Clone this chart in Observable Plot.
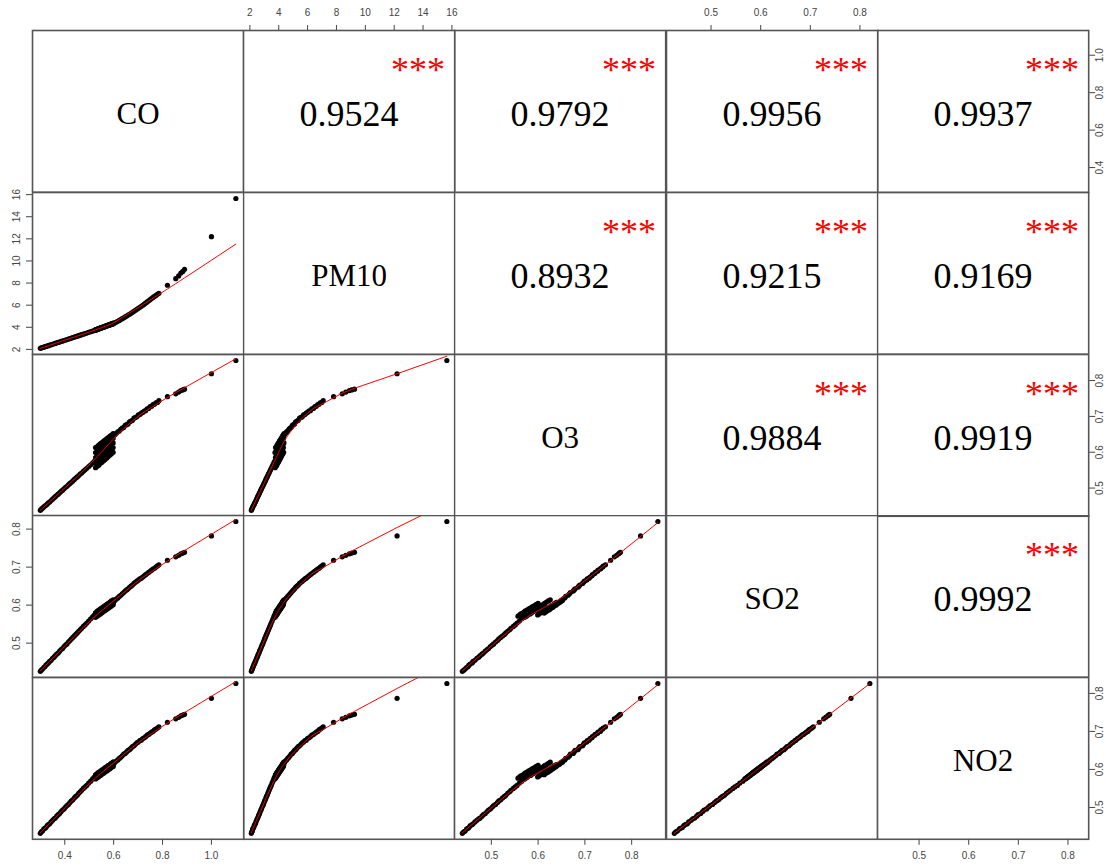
<!DOCTYPE html>
<html><head><meta charset="utf-8">
<script src="https://cdn.jsdelivr.net/npm/d3@7"></script>
<script src="https://cdn.jsdelivr.net/npm/@observablehq/plot@0.6"></script>
<style>
body{margin:0;background:#fff;}
#chart{position:relative;width:1106px;height:867px;overflow:hidden;background:#fff;}
#chart svg{position:absolute;}
</style></head><body><div id="chart"></div>
<script>
// ---- data ----
const variables = ["CO", "PM10", "O3", "SO2", "NO2"];

const CO = [
  // lower branch
  0.300,0.304,0.309,0.314,0.318,0.323,0.328,0.333,0.338,0.344,0.350,0.356,0.361,0.367,0.373,0.379,0.385,0.391,0.397,
  0.403,0.409,0.415,0.421,0.427,0.433,0.439,0.445,0.451,0.457,0.463,0.469,0.476,0.483,0.490,0.498,0.506,0.514,0.520,
  // dense cluster
  0.526,0.526,0.526,0.526,0.526, 0.533,0.533,0.533,0.533,0.533, 0.539,0.539,0.539,0.539,0.539,
  0.546,0.546,0.546,0.546,0.546, 0.552,0.552,0.552,0.552,0.552, 0.559,0.559,0.559,0.559,0.559,
  0.565,0.565,0.565,0.565,0.565, 0.572,0.572,0.572,0.572,0.572, 0.578,0.578,0.578,0.578,0.578,
  0.585,0.585,0.585,0.585,0.585, 0.591,0.591,0.591,0.591,0.591, 0.598,0.598,0.598,0.598,0.598,
  // upper branch
  0.605,0.611,0.617,0.623,0.629,0.635,0.641,0.647,0.653,0.659,0.665,0.671,0.677,0.683,0.689,0.695,
  0.701,0.707,0.713,0.719,0.725,0.731,0.737,0.743,0.749,0.755,0.761,0.767,0.773,0.779,0.785,
  0.820,0.854,0.866,0.875,0.883,0.890,1.000,1.100
];
const PM10 = [
  2.10,2.13,2.17,2.20,2.23,2.27,2.30,2.34,2.38,2.42,2.46,2.51,2.54,2.59,2.63,2.67,2.72,2.76,2.80,
  2.85,2.89,2.94,2.98,3.02,3.07,3.11,3.15,3.20,3.24,3.29,3.33,3.38,3.43,3.48,3.54,3.60,3.66,3.70,
  3.75,3.73,3.77,3.74,3.78, 3.81,3.79,3.83,3.80,3.84, 3.86,3.84,3.88,3.85,3.89,
  3.92,3.90,3.94,3.91,3.95, 3.97,3.95,3.99,3.96,4.00, 4.02,4.00,4.04,4.01,4.05,
  4.07,4.05,4.09,4.06,4.10, 4.13,4.11,4.15,4.12,4.16, 4.18,4.16,4.20,4.17,4.21,
  4.23,4.21,4.25,4.22,4.26, 4.28,4.26,4.30,4.27,4.31, 4.34,4.32,4.36,4.33,4.37,
  4.40,4.47,4.54,4.62,4.70,4.78,4.86,4.94,5.02,5.10,5.17,5.26,5.35,5.44,5.54,5.63,
  5.72,5.81,5.90,5.99,6.09,6.19,6.29,6.40,6.50,6.60,6.70,6.79,6.88,6.98,7.08,
  7.80,8.40,8.65,8.90,9.05,9.25,12.20,15.65
];
const O3 = [
  0.438,0.441,0.444,0.447,0.450,0.452,0.455,0.459,0.461,0.465,0.469,0.473,0.476,0.480,0.483,0.487,0.491,0.494,0.498,
  0.502,0.505,0.509,0.513,0.516,0.520,0.524,0.528,0.531,0.535,0.539,0.542,0.547,0.551,0.555,0.560,0.565,0.570,0.574,
  0.557,0.571,0.585,0.599,0.613, 0.561,0.575,0.589,0.602,0.616, 0.564,0.578,0.592,0.606,0.620,
  0.569,0.583,0.596,0.610,0.624, 0.572,0.586,0.600,0.613,0.627, 0.576,0.590,0.603,0.617,0.631,
  0.580,0.594,0.607,0.620,0.634, 0.584,0.598,0.611,0.624,0.638, 0.588,0.601,0.614,0.628,0.641,
  0.592,0.605,0.618,0.632,0.645, 0.596,0.609,0.622,0.635,0.648, 0.600,0.613,0.626,0.639,0.652,
  0.649,0.653,0.657,0.659,0.664,0.667,0.669,0.675,0.677,0.679,0.685,0.687,0.689,0.695,0.697,0.699,
  0.704,0.705,0.709,0.711,0.715,0.716,0.721,0.722,0.727,0.728,0.733,0.734,0.738,0.739,0.744,
  0.755,0.763,0.768,0.772,0.774,0.776,0.819,0.856
];
const SO2 = [
  0.426,0.429,0.432,0.436,0.438,0.442,0.445,0.448,0.452,0.455,0.460,0.463,0.467,0.471,0.474,0.479,0.483,0.486,0.491,
  0.495,0.498,0.503,0.507,0.511,0.515,0.519,0.523,0.527,0.531,0.535,0.539,0.544,0.548,0.553,0.558,0.564,0.569,0.573,
  0.571,0.568,0.580,0.574,0.579, 0.575,0.571,0.584,0.577,0.582, 0.578,0.574,0.587,0.580,0.585,
  0.581,0.577,0.590,0.583,0.588, 0.584,0.580,0.593,0.586,0.591, 0.587,0.583,0.596,0.589,0.594,
  0.590,0.586,0.599,0.592,0.597, 0.593,0.589,0.602,0.595,0.600, 0.596,0.592,0.605,0.598,0.603,
  0.599,0.595,0.608,0.601,0.606, 0.602,0.598,0.611,0.604,0.609, 0.605,0.601,0.614,0.607,0.612,
  0.612,0.616,0.619,0.623,0.626,0.630,0.633,0.637,0.640,0.643,0.647,0.650,0.653,0.657,0.660,0.663,
  0.666,0.669,0.671,0.674,0.677,0.680,0.683,0.686,0.689,0.692,0.695,0.697,0.700,0.703,0.706,
  0.718,0.727,0.731,0.735,0.737,0.739,0.782,0.820
];
const NO2 = [
  0.432,0.436,0.438,0.443,0.445,0.447,0.452,0.455,0.457,0.462,0.466,0.470,0.472,0.477,0.481,0.484,0.489,0.493,0.496,
  0.501,0.505,0.508,0.513,0.517,0.520,0.525,0.529,0.532,0.537,0.541,0.545,0.550,0.554,0.558,0.564,0.569,0.575,0.579,
  0.577,0.575,0.585,0.580,0.586, 0.581,0.578,0.589,0.583,0.589, 0.584,0.581,0.592,0.586,0.592,
  0.587,0.584,0.595,0.589,0.595, 0.590,0.587,0.598,0.592,0.598, 0.593,0.590,0.601,0.595,0.601,
  0.596,0.593,0.604,0.598,0.604, 0.599,0.596,0.607,0.601,0.607, 0.602,0.599,0.610,0.604,0.610,
  0.605,0.602,0.613,0.607,0.613, 0.608,0.605,0.616,0.610,0.616, 0.611,0.608,0.619,0.613,0.619,
  0.618,0.622,0.625,0.629,0.632,0.636,0.640,0.642,0.646,0.650,0.652,0.656,0.660,0.662,0.666,0.670,
  0.672,0.676,0.677,0.681,0.683,0.686,0.690,0.692,0.695,0.698,0.700,0.704,0.706,0.709,0.712,
  0.724,0.733,0.737,0.741,0.743,0.745,0.787,0.826
];

// correlation labels shown in the upper panels: [row, col, text]
const corrRows = [0,0,0,0,1,1,1,2,2,3];
const corrCols = [1,2,3,4,2,3,4,3,4,4];
const corrText = ["0.9524","0.9792","0.9956","0.9937","0.8932","0.9215","0.9169","0.9884","0.9919","0.9992"];
const sigStars = "***";

const ticksCO = [0.4, 0.6, 0.8, 1.0];
const ticksPM10 = [2, 4, 6, 8, 10, 12, 14, 16];
const ticksO3 = [0.5, 0.6, 0.7, 0.8];
const ticksSO2 = [0.5, 0.6, 0.7, 0.8];
const ticksNO2 = [0.5, 0.6, 0.7, 0.8];

// ---- helpers ----
const series = [CO, PM10, O3, SO2, NO2];
const tickSets = [ticksCO, ticksPM10, ticksO3, ticksSO2, ticksNO2];
const f1 = d3.format(".1f"), fi = d3.format("d");
const tickFmt = [f1, fi, f1, f1, f1];
const domains = series.map(s => {
  const [a, b] = d3.extent(s); const p = (b - a) * 0.04; return [a - p, b + p];
});

// R-style lowess (f = 2/3, iter = 3)
function lowess(xs, ys, f = 2/3, iter = 3) {
  const n = xs.length;
  const order = d3.range(n).sort((a, b) => xs[a] - xs[b]);
  const x = order.map(i => xs[i]), y = order.map(i => ys[i]);
  const ns = Math.max(2, Math.min(n, Math.floor(f * n + 1e-7)));
  let rw = new Array(n).fill(1);
  let fit = new Array(n).fill(0);
  for (let it = 0; it <= iter; it++) {
    let nleft = 0, nright = ns - 1;
    for (let i = 0; i < n; i++) {
      while (nright < n - 1 && x[i] - x[nleft] > x[nright + 1] - x[i]) { nleft++; nright++; }
      const h = Math.max(x[i] - x[nleft], x[nright] - x[i]);
      const h9 = 0.999 * h, h1 = 0.001 * h;
      let sw = 0, swx = 0, swy = 0; const ws = [];
      for (let j = 0; j < n; j++) {
        const r = Math.abs(x[j] - x[i]);
        let w = 0;
        if (r <= h9) {
          w = r <= h1 ? 1 : Math.pow(1 - Math.pow(r / h, 3), 3);
          w *= rw[j];
        }
        ws.push(w); sw += w; swx += w * x[j]; swy += w * y[j];
      }
      if (sw <= 0) { fit[i] = y[i]; continue; }
      const xb = swx / sw, yb = swy / sw;
      let sxx = 0, sxy = 0;
      for (let j = 0; j < n; j++) { if (ws[j] > 0) { sxx += ws[j] * (x[j] - xb) ** 2; sxy += ws[j] * (x[j] - xb) * (y[j] - yb); } }
      const range = x[n - 1] - x[0];
      const b = (h > 0 && Math.sqrt(sxx / sw) > 0.001 * range) ? sxy / sxx : 0;
      fit[i] = yb + b * (x[i] - xb);
    }
    if (it === iter) break;
    const res = y.map((v, i) => v - fit[i]);
    const cmad = 6 * d3.median(res.map(Math.abs));
    if (cmad < 1e-7 * d3.mean(y.map(Math.abs))) break;
    rw = res.map(r => {
      const a = Math.abs(r);
      if (a <= 0.001 * cmad) return 1;
      if (a > 0.999 * cmad) return 0;
      return (1 - (r / cmad) ** 2) ** 2;
    });
  }
  return x.map((v, i) => ({x: v, y: fit[i]}));
}

// ---- layout ----
const X0 = 32, Y0 = 30, W = 211.2, H = 161.8;
const chart = document.getElementById("chart");
const idx = d3.range(CO.length);
const frameColor = "#555";
const tickColor = "#444";
const serif = "'Liberation Serif', 'Times New Roman', serif";

for (let i = 0; i < 5; i++) {
  for (let j = 0; j < 5; j++) {
    const topAxis = i === 0 && (j === 1 || j === 3);
    const bottomAxis = i === 4 && (j === 0 || j === 2 || j === 4);
    const leftAxis = j === 0 && (i === 1 || i === 3);
    const rightAxis = j === 4 && (i === 0 || i === 2 || i === 4);
    let mT = i === 0 ? 30 : 0;
    let mB = i === 4 ? 28 : 0;
    let mL = j === 0 ? 32 : 0;
    let mR = j === 4 ? 18 : 0;
    // room for tick labels that straddle a neighbouring panel
    if ((topAxis || bottomAxis) && j < 4) mR = Math.max(mR, 8);
    if ((topAxis || bottomAxis) && j > 0) mL = Math.max(mL, 8);
    if ((leftAxis || rightAxis) && i > 0) mT = Math.max(mT, 8);
    if ((leftAxis || rightAxis) && i < 4) mB = Math.max(mB, 8);
    const marks = [];
    if (i > j) {
      marks.push(Plot.dot(idx, {x: k => series[j][k], y: k => series[i][k], r: 2.6, fill: "black", stroke: null}));
      marks.push(Plot.line(lowess(series[j], series[i]), {x: "x", y: "y", stroke: "#ff0000", strokeWidth: 1, clip: true}));
    } else if (i === j) {
      marks.push(Plot.text([variables[i]], {text: d => d, frameAnchor: "middle", dy: 3, fontSize: 31, fontFamily: serif, fill: "black"}));
    } else {
      const k = corrText.findIndex((t, q) => corrRows[q] === i && corrCols[q] === j);
      marks.push(Plot.text([corrText[k]], {text: d => d, frameAnchor: "middle", dy: 3, fontSize: 36, fontFamily: serif, fill: "black"}));
      marks.push(Plot.text([sigStars], {text: d => d, frameAnchor: "top-left", dx: 0.826 * W, dy: 0.22 * H - 10, textAnchor: "middle", fontSize: 36, fontFamily: serif, fill: "#ff0000"}));
    }
    if (leftAxis) {
      marks.push(Plot.text(tickSets[i], {y: d => d, text: d => tickFmt[i](d), frameAnchor: "left", dx: -16, rotate: -90, textAnchor: "middle", lineAnchor: "middle", fontSize: 10, fill: tickColor}));
    }
    if (rightAxis) {
      marks.push(Plot.text(tickSets[i], {y: d => d, text: d => tickFmt[i](d), frameAnchor: "right", dx: 11, rotate: -90, textAnchor: "middle", lineAnchor: "middle", fontSize: 10, fill: tickColor}));
    }
    marks.push(Plot.frame({stroke: frameColor, strokeWidth: 1.6}));
    const svg = Plot.plot({
      width: W + mL + mR, height: H + mT + mB,
      marginTop: mT, marginBottom: mB, marginLeft: mL, marginRight: mR,
      x: {domain: domains[j], label: null,
          axis: topAxis ? "top" : bottomAxis ? "bottom" : null,
          ticks: tickSets[j], tickFormat: tickFmt[j], tickSize: 6, tickPadding: topAxis ? 8 : 7},
      y: {domain: domains[i], label: null,
          axis: leftAxis ? "left" : rightAxis ? "right" : null,
          ticks: tickSets[i], tickFormat: () => "", tickSize: 6},
      style: {background: "transparent", fontFamily: "'Liberation Sans', Arial, sans-serif", fontSize: "10px", color: tickColor, overflow: "hidden"},
      marks
    });
    svg.style.left = (X0 + j * W - mL) + "px";
    svg.style.top = (Y0 + i * H - mT) + "px";
    svg.style.maxWidth = "none";
    chart.appendChild(svg);
  }
}
</script></body></html>
